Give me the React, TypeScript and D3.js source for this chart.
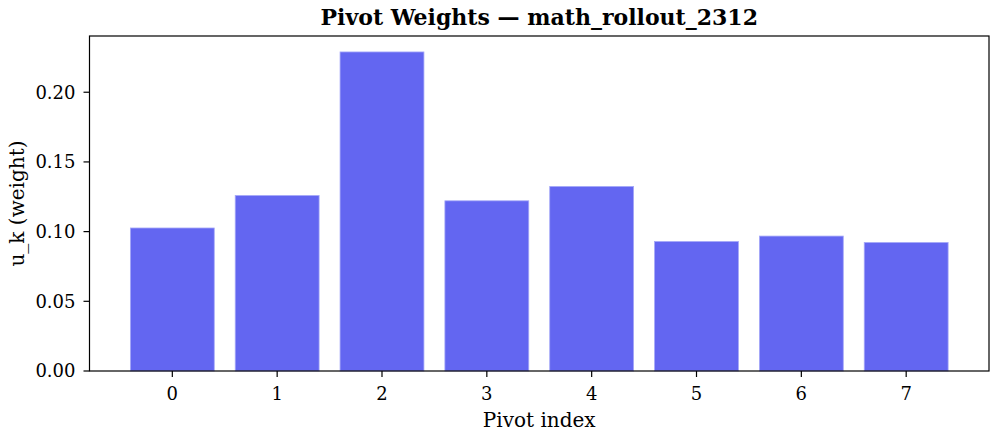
import React from "react";
import { scaleBand, scaleLinear, max } from "d3";

const pivots = ["0", "1", "2", "3", "4", "5", "6", "7"];
const weights = [0.1026, 0.1259, 0.2289, 0.1221, 0.1324, 0.0929, 0.0968, 0.0922];
const yTicks = [0, 0.05, 0.1, 0.15, 0.2];

const App = () => {
  const width = 996;
  const height = 438;
  const margin = { top: 36, right: 7, bottom: 67, left: 89.5 };
  const innerWidth = width - margin.left - margin.right;
  const innerHeight = height - margin.top - margin.bottom;

  // matplotlib-like x: bars of width 0.8, 5% margins
  const n = pivots.length;
  const lo = -0.4 - (n - 1 + 0.8) * 0.05;
  const hi = n - 1 + 0.4 + (n - 1 + 0.8) * 0.05;
  const xScale = scaleLinear().domain([lo, hi]).range([0, innerWidth]);
  const band = scaleBand().domain(pivots).range([0, n]);

  const yMax = (max(weights) as number) * 1.05;
  const yScale = scaleLinear().domain([0, yMax]).range([innerHeight, 0]);

  const font = "DejaVu Serif";

  return (
    <svg width={width} height={height} style={{ position: "absolute", left: 0, top: 0 }}>
      <rect width={width} height={height} fill="white" />
      <text
        x={margin.left + innerWidth / 2}
        y={25}
        textAnchor="middle"
        fontFamily={font}
        fontWeight="bold"
        fontSize={22}
      >
        Pivot Weights — math_rollout_2312
      </text>
      <g transform={`translate(${margin.left},${margin.top})`}>
        {pivots.map((p, i) => {
          const x0 = xScale((band(p) as number) - 0.4);
          const x1 = xScale((band(p) as number) + 0.4);
          const w = weights[i];
          return (
            <rect
              key={p}
              x={x0}
              y={yScale(w)}
              width={x1 - x0}
              height={innerHeight - yScale(w)}
              fill="#6366f1"
              stroke="#a5a8f8"
              strokeWidth={0.8}
            />
          );
        })}
        <rect
          x={0}
          y={0}
          width={innerWidth}
          height={innerHeight}
          fill="none"
          stroke="black"
          strokeWidth={1.2}
        />
        {yTicks.map((t) => (
          <g key={t} transform={`translate(0,${yScale(t)})`}>
            <line x1={-6} x2={0} stroke="black" strokeWidth={1.2} />
            <text
              x={-14}
              dy="0.36em"
              textAnchor="end"
              fontFamily={font}
              fontSize={18}
            >
              {t.toFixed(2)}
            </text>
          </g>
        ))}
        {pivots.map((p, i) => (
          <g key={p} transform={`translate(${xScale(i)},${innerHeight})`}>
            <line y2={6} stroke="black" strokeWidth={1.2} />
            <text y={29} textAnchor="middle" fontFamily={font} fontSize={18}>
              {p}
            </text>
          </g>
        ))}
        <text
          x={innerWidth / 2}
          y={innerHeight + 56}
          textAnchor="middle"
          fontFamily={font}
          fontSize={20}
        >
          Pivot index
        </text>
        <text
          transform={`translate(${-66},${innerHeight / 2}) rotate(-90)`}
          textAnchor="middle"
          fontFamily={font}
          fontSize={20}
        >
          u_k (weight)
        </text>
      </g>
    </svg>
  );
};

export default App;
